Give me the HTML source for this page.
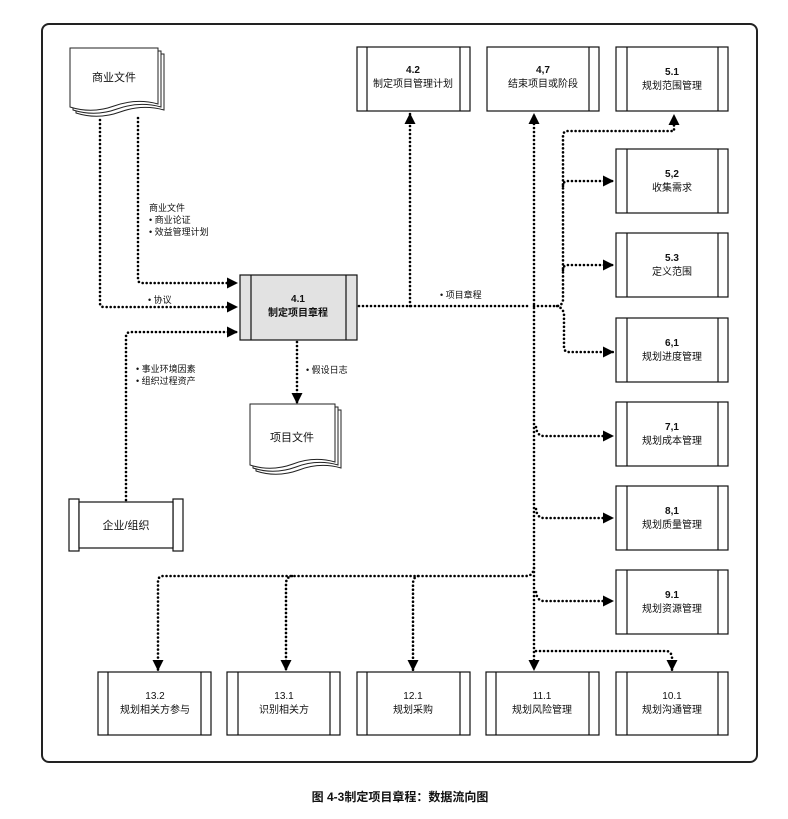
<!DOCTYPE html>
<html><head><meta charset="utf-8"><style>
html,body{margin:0;padding:0;background:#fff;width:788px;height:819px;overflow:hidden}
svg text{font-family:"Liberation Sans","Noto Sans CJK SC",sans-serif;fill:#111}
</style></head><body>
<svg width="788" height="819" viewBox="0 0 788 819" xmlns="http://www.w3.org/2000/svg">
<defs>
<marker id="a" viewBox="0 0 10 10" refX="10" refY="5" markerWidth="11" markerHeight="11" markerUnits="userSpaceOnUse" orient="auto"><path d="M0,0L10,5L0,10z" fill="#000"/></marker>
</defs>
<rect x="42" y="24" width="715" height="738" rx="7" fill="none" stroke="#222" stroke-width="2"/>

<g fill="none" stroke="#000" stroke-width="2.6" stroke-dasharray="0 4" stroke-linecap="round">
<path d="M100,120 V303 Q100,307 104,307 H238" marker-end="url(#a)"/>
<path d="M138,118 V279 Q138,283 142,283 H238" marker-end="url(#a)"/>
<path d="M126,500 V337 Q126,332 131,332 H238" marker-end="url(#a)"/>
<path d="M297,342 V404" marker-end="url(#a)"/>
<path d="M359,306 H530"/>
<path d="M410,306 V113" marker-end="url(#a)"/>
<path d="M534,660 V113" marker-end="url(#a)"/>
<path d="M534,306 H557 Q562,306 563,300 V136 Q563,131 568,131 H674 V114" marker-end="url(#a)"/>
<path d="M563,186 Q563,181 568,181 H614" marker-end="url(#a)"/>
<path d="M563,270 Q563,265 568,265 H614" marker-end="url(#a)"/>
<path d="M557,306 Q563,308 564,314 V347 Q564,352 569,352 H614" marker-end="url(#a)"/>
<path d="M536,427 Q537,436 544,436 H614" marker-end="url(#a)"/>
<path d="M536,509 Q537,518 544,518 H614" marker-end="url(#a)"/>
<path d="M536,592 Q537,601 544,601 H614" marker-end="url(#a)"/>
<path d="M534,568 Q533,576 526,576 H163 Q158,576 158,582 V671" marker-end="url(#a)"/>
<path d="M292,576 Q286,577 286,584 V671" marker-end="url(#a)"/>
<path d="M418,576 Q413,577 413,584 V671" marker-end="url(#a)"/>
<path d="M536,651 H666 Q671,651 672,657 V671" marker-end="url(#a)"/>
</g>
<path d="M528.5,660 L539.5,660 L534,671 z" fill="#000"/>

<g fill="#fff" stroke="#222" stroke-width="1">
<path d="M76,54 H164 V110 Q142,104 120,112 Q98,120 76,113 Z"/>
<path d="M73,51 H161 V107 Q139,101 117,109 Q95,117 73,110 Z"/>
<path d="M70,48 H158 V104 Q136,98 114,106 Q92,114 70,107 Z"/>
<path d="M256,410 H341 V468 Q320,462 299,470 Q277,478 256,471 Z"/>
<path d="M253,407 H338 V465 Q317,459 296,467 Q274,475 253,468 Z"/>
<path d="M250,404 H335 V462 Q314,456 293,464 Q271,472 250,465 Z"/>
</g>
<text x="114" y="81" font-size="11" text-anchor="middle">商业文件</text>
<text x="292" y="441" font-size="11" text-anchor="middle">项目文件</text>

<g stroke="#111" stroke-width="1.2" fill="#fff">
<rect x="240" y="275" width="117" height="65" fill="#e2e2e2"/><path d="M251,275V340M346,275V340" fill="none"/>
<rect x="357" y="47" width="113" height="64"/><path d="M367,47V111M460,47V111" fill="none"/>
<rect x="487" y="47" width="112" height="64"/><path d="M589,47V111" fill="none"/>
<rect x="616" y="47" width="112" height="64"/><path d="M627,47V111M718,47V111" fill="none"/>
<rect x="616" y="149" width="112" height="64"/><path d="M627,149V213M718,149V213" fill="none"/>
<rect x="616" y="233" width="112" height="64"/><path d="M627,233V297M718,233V297" fill="none"/>
<rect x="616" y="318" width="112" height="64"/><path d="M627,318V382M718,318V382" fill="none"/>
<rect x="616" y="402" width="112" height="64"/><path d="M627,402V466M718,402V466" fill="none"/>
<rect x="616" y="486" width="112" height="64"/><path d="M627,486V550M718,486V550" fill="none"/>
<rect x="616" y="570" width="112" height="64"/><path d="M627,570V634M718,570V634" fill="none"/>
<rect x="98" y="672" width="113" height="63"/><path d="M108,672V735M201,672V735" fill="none"/>
<rect x="227" y="672" width="113" height="63"/><path d="M238,672V735M330,672V735" fill="none"/>
<rect x="357" y="672" width="113" height="63"/><path d="M367,672V735M460,672V735" fill="none"/>
<rect x="486" y="672" width="113" height="63"/><path d="M496,672V735M589,672V735" fill="none"/>
<rect x="616" y="672" width="112" height="63"/><path d="M627,672V735M718,672V735" fill="none"/>
<rect x="69" y="499" width="10" height="52"/><rect x="173" y="499" width="10" height="52"/>
<rect x="79" y="502" width="94" height="46"/>
</g>
<g font-size="10" text-anchor="middle">
<text x="298" y="302" font-weight="bold">4.1</text><text x="298" y="316" font-weight="bold">制定项目章程</text>
<text x="413" y="73" font-weight="bold">4.2</text><text x="413" y="87">制定项目管理计划</text>
<text x="543" y="73" font-weight="bold">4,7</text><text x="543" y="87">结束项目或阶段</text>
<text x="672" y="75" font-weight="bold">5.1</text><text x="672" y="89">规划范围管理</text>
<text x="672" y="177" font-weight="bold">5,2</text><text x="672" y="191">收集需求</text>
<text x="672" y="261" font-weight="bold">5.3</text><text x="672" y="275">定义范围</text>
<text x="672" y="346" font-weight="bold">6,1</text><text x="672" y="360">规划进度管理</text>
<text x="672" y="430" font-weight="bold">7,1</text><text x="672" y="444">规划成本管理</text>
<text x="672" y="514" font-weight="bold">8,1</text><text x="672" y="528">规划质量管理</text>
<text x="672" y="598" font-weight="bold">9.1</text><text x="672" y="612">规划资源管理</text>
<text x="155" y="699">13.2</text><text x="155" y="713">规划相关方参与</text>
<text x="284" y="699">13.1</text><text x="284" y="713">识别相关方</text>
<text x="413" y="699">12.1</text><text x="413" y="713">规划采购</text>
<text x="542" y="699">11.1</text><text x="542" y="713">规划风险管理</text>
<text x="672" y="699">10.1</text><text x="672" y="713">规划沟通管理</text>
<text x="126" y="529" font-size="11">企业/组织</text>
</g>
<g font-size="9">
<text x="149" y="211">商业文件</text>
<text x="149" y="223">•  商业论证</text>
<text x="149" y="235">•  效益管理计划</text>
<text x="148" y="303">• 协议</text>
<text x="136" y="372">• 事业环境因素</text>
<text x="136" y="384">• 组织过程资产</text>
<text x="306" y="373">• 假设日志</text>
<text x="440" y="298">• 项目章程</text>
</g>
<text x="400" y="801" font-size="12" font-weight="bold" text-anchor="middle">图 4-3制定项目章程：数据流向图</text>
</svg>
</body></html>
